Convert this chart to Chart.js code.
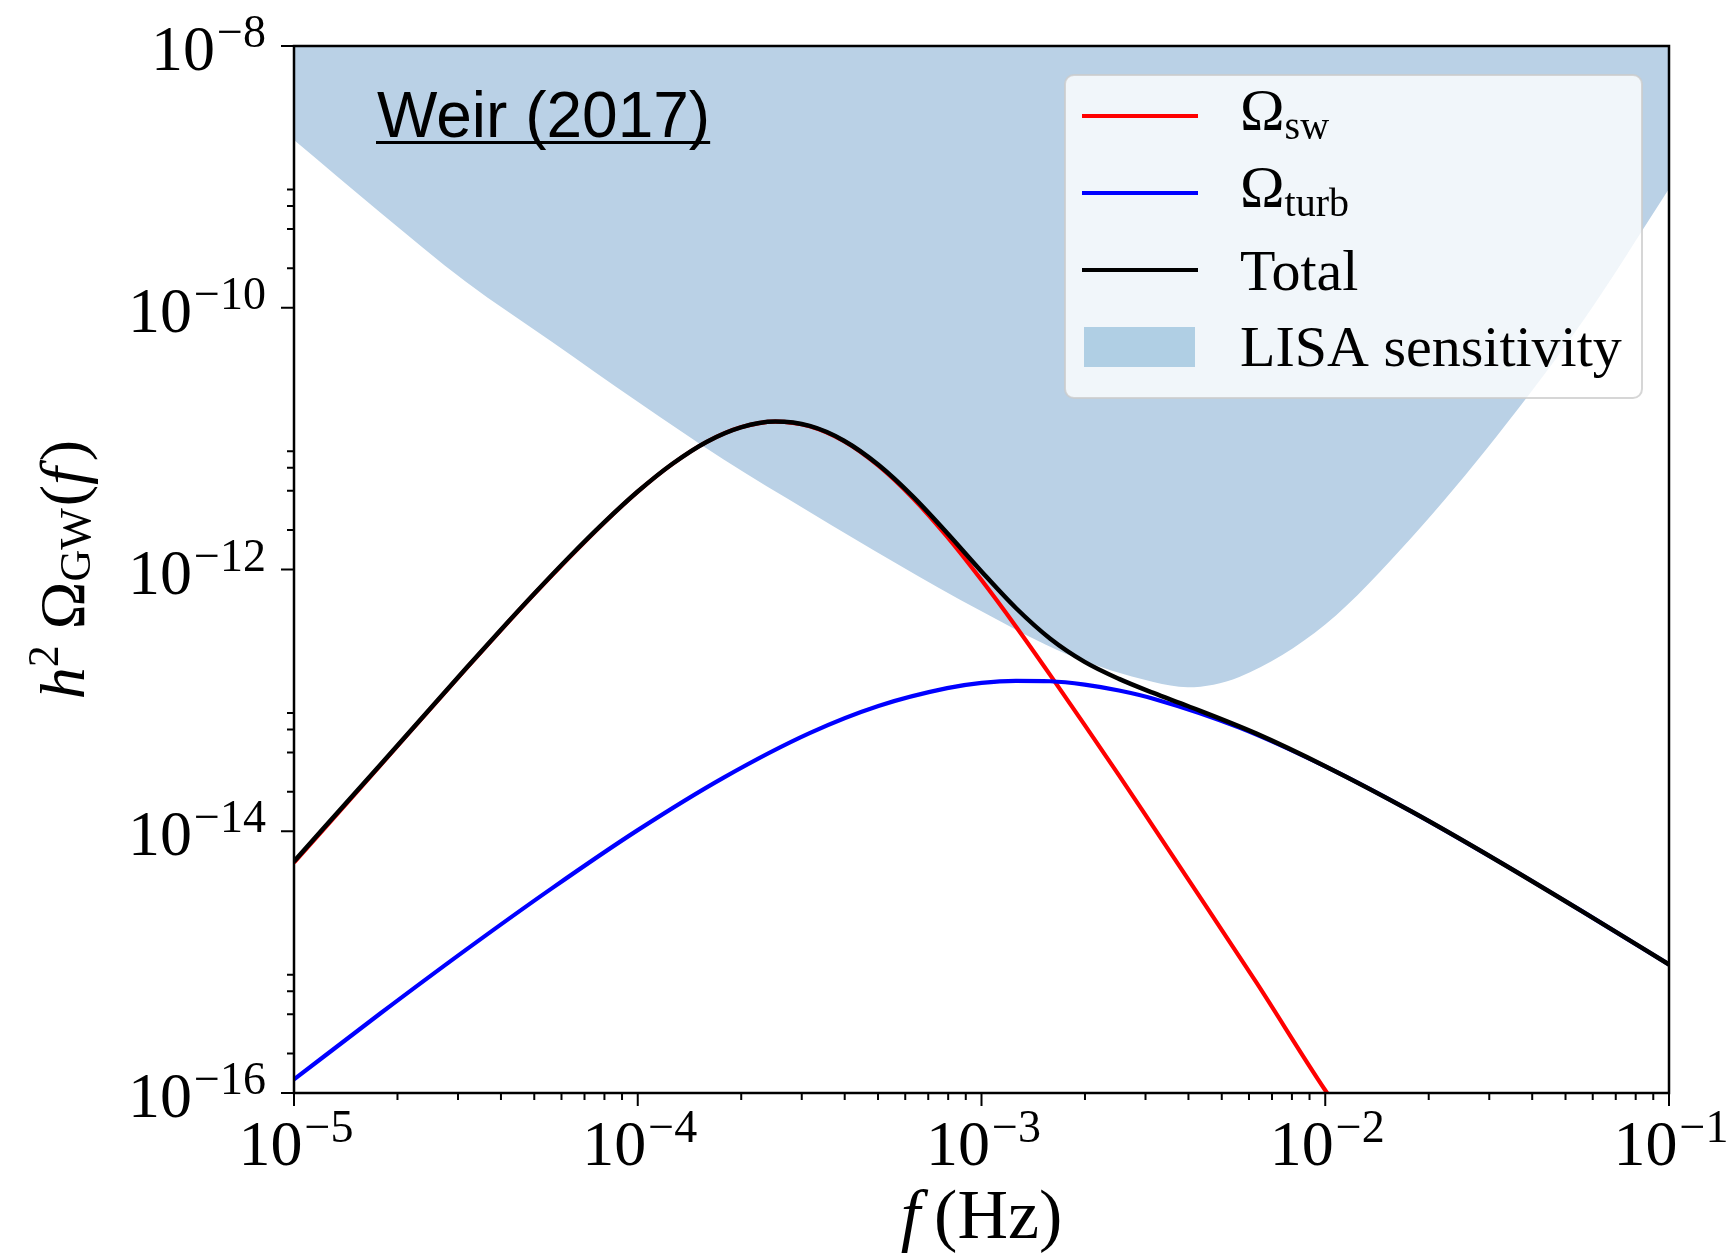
<!DOCTYPE html>
<html>
<head>
<meta charset="utf-8">
<title>Weir (2017) - GW spectrum vs LISA sensitivity</title>
<script src="https://cdn.jsdelivr.net/npm/chart.js@4.4.1/dist/chart.umd.min.js"></script>
<style>
    html, body { margin: 0; padding: 0; background: #ffffff; }
    #wrap { width: 1731px; height: 1254px; }
</style>
</head>
<body>
<div id="wrap"><canvas id="chart" width="1731" height="1254"></canvas></div>
<script>
// Values (log-log axes)
const SW_FREQ = [1e-5, 1.778e-5, 3.162e-5, 3.981e-5, 5.012e-5, 6.310e-5, 7.943e-5, 1e-4,
    1.259e-4, 1.585e-4, 1.995e-4, 2.512e-4, 3.162e-4, 3.981e-4, 5.012e-4, 6.310e-4, 7.943e-4,
    1e-3, 1.259e-3, 1.585e-3, 1.995e-3, 2.512e-3, 3.162e-3, 3.981e-3, 6.310e-3, 1e-2, 1.259e-2];
const SW_OMEGA = [5.75e-15, 3.16e-14, 1.74e-13, 3.40e-13, 6.55e-13, 1.23e-12, 2.25e-12, 3.93e-12,
    6.38e-12, 9.42e-12, 1.22e-11, 1.35e-11, 1.245e-11, 9.57e-12, 6.22e-12, 3.52e-12, 1.78e-12,
    8.30e-13, 3.67e-13, 1.56e-13, 6.50e-14, 2.67e-14, 1.08e-14, 4.35e-15, 6.97e-16, 1.05e-16, 4.47e-17];

const TURB_FREQ = [1e-5, 1.778e-5, 3.162e-5, 5.623e-5, 1e-4, 1.778e-4, 3.162e-4, 5.012e-4, 7.943e-4,
    1e-3, 1.259e-3, 1.585e-3, 1.995e-3, 2.512e-3, 3.162e-3, 5.623e-3, 1e-2, 1.778e-2, 3.162e-2,
    5.623e-2, 1e-1];
const TURB_OMEGA = [1.27e-16, 4.03e-16, 1.24e-15, 3.66e-15, 1.02e-14, 2.57e-14, 5.62e-14, 9.06e-14, 1.24e-13,
    1.36e-13, 1.41e-13, 1.40e-13, 1.32e-13, 1.19e-13, 1.03e-13, 6.19e-14, 3.13e-14, 1.42e-14, 5.98e-15,
    2.42e-15, 9.59e-16];

const TOTAL_FREQ = [1e-5, 1.778e-5, 3.162e-5, 3.981e-5, 5.012e-5, 6.310e-5, 7.943e-5, 1e-4,
    1.259e-4, 1.585e-4, 1.995e-4, 2.512e-4, 3.162e-4, 3.981e-4, 5.012e-4, 6.310e-4, 7.943e-4,
    1e-3, 1.259e-3, 1.585e-3, 1.995e-3, 2.512e-3, 3.162e-3, 3.981e-3, 6.310e-3, 1e-2,
    1.778e-2, 3.162e-2, 5.623e-2, 1e-1];
const TOTAL_OMEGA = [5.88e-15, 3.20e-14, 1.75e-13, 3.42e-13, 6.58e-13, 1.24e-12, 2.26e-12, 3.94e-12,
    6.40e-12, 9.44e-12, 1.22e-11, 1.35e-11, 1.25e-11, 9.64e-12, 6.31e-12, 3.62e-12, 1.90e-12,
    9.66e-13, 5.08e-13, 2.96e-13, 1.97e-13, 1.46e-13, 1.14e-13, 9.06e-14, 5.57e-14, 3.14e-14,
    1.42e-14, 5.98e-15, 2.42e-15, 9.59e-16];

const LISA_FREQ = [1e-5, 1.778e-5, 3.162e-5, 5.623e-5, 1e-4, 1.778e-4, 3.162e-4, 5.623e-4, 1e-3,
    1.778e-3, 3.162e-3, 3.981e-3, 5.623e-3, 1e-2, 1.778e-2, 3.162e-2, 5.623e-2, 1e-1];
const LISA_OMEGA = [1.91e-9, 5.37e-10, 1.58e-10, 5.50e-11, 1.91e-11, 6.92e-12, 2.75e-12, 1.12e-12, 4.79e-13,
    2.24e-13, 1.38e-13, 1.26e-13, 1.51e-13, 3.80e-13, 1.74e-12, 1.05e-11, 7.94e-11, 8.13e-10];

// Axis ticks
const X_MAJOR = [1e-5, 1e-4, 1e-3, 1e-2, 1e-1];
const X_MAJOR_EXP = ['−5', '−4', '−3', '−2', '−1'];
const Y_MAJOR = [1e-8, 1e-10, 1e-12, 1e-14, 1e-16];
const Y_MAJOR_EXP = ['−8', '−10', '−12', '−14', '−16'];
const X_MINOR_SUBS = [2, 3, 4, 5, 6, 7, 8, 9];
const Y_MINOR_SUBS = [2, 4, 6, 8];

const SERIF = '"Liberation Serif", "DejaVu Serif", serif';
const SANS = '"Liberation Sans", Arial, sans-serif';

const toPoints = (xs, ys) => xs.map((x, i) => ({ x, y: ys[i] }));

// draw a row of text pieces (for super/subscripts)
function drawRuns(ctx, runs, x, y, align) {
    const widths = runs.map(r => {
        ctx.font = r.font;
        return ctx.measureText(r.text).width + (r.gap || 0);
    });
    const total = widths.reduce((a, b) => a + b, 0);
    let cx = align === 'right' ? x - total : align === 'center' ? x - total / 2 : x;
    ctx.textAlign = 'left';
    ctx.textBaseline = 'alphabetic';
    runs.forEach((r, i) => {
        ctx.font = r.font;
        ctx.fillText(r.text, cx, y + (r.dy || 0));
        cx += widths[i];
    });
}

function pow10Runs(exp) {
    return [
        { text: '10', font: `64px ${SERIF}`, gap: 2 },
        { text: exp, font: `46px ${SERIF}`, dy: -23 },
    ];
}

const axesPlugin = {
    id: 'mplAxes',
    afterDraw(chart) {
        const { ctx, chartArea: a } = chart;
        const xs = chart.scales.x, ys = chart.scales.y;
        ctx.save();
        ctx.fillStyle = '#000';
        ctx.strokeStyle = '#000';

        // frame
        ctx.lineWidth = 2.5;
        ctx.strokeRect(a.left, a.top, a.right - a.left, a.bottom - a.top);

        // ticks, outward on left and bottom
        ctx.lineWidth = 2;
        ctx.beginPath();
        X_MAJOR.forEach((v, i) => {
            const px = xs.getPixelForValue(v);
            ctx.moveTo(px, a.bottom);
            ctx.lineTo(px, a.bottom + 13);
            if (i < X_MAJOR.length - 1) {
                X_MINOR_SUBS.forEach(s => {
                    const mx = xs.getPixelForValue(v * s);
                    ctx.moveTo(mx, a.bottom);
                    ctx.lineTo(mx, a.bottom + 7);
                });
            }
        });
        Y_MAJOR.forEach((v, i) => {
            const py = ys.getPixelForValue(v);
            ctx.moveTo(a.left, py);
            ctx.lineTo(a.left - 13, py);
            if (i > 0) {
                Y_MINOR_SUBS.forEach(s => {
                    const my = ys.getPixelForValue(v * s);
                    ctx.moveTo(a.left, my);
                    ctx.lineTo(a.left - 7, my);
                });
            }
        });
        ctx.stroke();

        // tick labels
        X_MAJOR.forEach((v, i) => {
            drawRuns(ctx, pow10Runs(X_MAJOR_EXP[i]), xs.getPixelForValue(v) + 2, a.bottom + 72, 'center');
        });
        Y_MAJOR.forEach((v, i) => {
            drawRuns(ctx, pow10Runs(Y_MAJOR_EXP[i]), a.left - 28, ys.getPixelForValue(v) + 24, 'right');
        });

        // axis titles
        drawRuns(ctx, [
            { text: 'f', font: `italic 70px ${SERIF}`, gap: 14 },
            { text: '(Hz)', font: `70px ${SERIF}` },
        ], (a.left + a.right) / 2, 1238, 'center');

        ctx.save();
        ctx.translate(84, (a.top + a.bottom) / 2);
        ctx.rotate(-Math.PI / 2);
        drawRuns(ctx, [
            { text: 'h', font: `italic 64px ${SERIF}` },
            { text: '2', font: `44px ${SERIF}`, dy: -26, gap: 16 },
            { text: 'Ω', font: `64px ${SERIF}` },
            { text: 'GW', font: `44px ${SERIF}`, dy: 6, gap: 2 },
            { text: '(', font: `64px ${SERIF}` },
            { text: 'f', font: `italic 64px ${SERIF}`, gap: 6 },
            { text: ')', font: `64px ${SERIF}` },
        ], 0, 0, 'center');
        ctx.restore();

        // annotation
        ctx.font = `64px ${SANS}`;
        ctx.textAlign = 'left';
        ctx.textBaseline = 'alphabetic';
        ctx.fillText('Weir (2017)', 377, 137);
        const tw = ctx.measureText('Weir (2017)').width;
        ctx.fillRect(376, 141, tw + 1, 3);

        // legend
        const lx = 1065, ly = 75, lw = 577, lh = 323;
        ctx.beginPath();
        ctx.roundRect(lx, ly, lw, lh, 9);
        ctx.fillStyle = 'rgba(255,255,255,0.8)';
        ctx.fill();
        ctx.strokeStyle = 'rgba(204,204,204,0.8)';
        ctx.lineWidth = 2;
        ctx.stroke();

        const ds = chart.data.datasets;
        const byLabel = l => ds.find(d => d.label === l);
        const rows = [
            { d: byLabel('sw'), runs: [{ text: 'Ω', font: `60px ${SERIF}` }, { text: 'sw', font: `40px ${SERIF}`, dy: 9 }], dy: 14 },
            { d: byLabel('turb'), runs: [{ text: 'Ω', font: `60px ${SERIF}` }, { text: 'turb', font: `40px ${SERIF}`, dy: 9 }], dy: 14 },
            { d: byLabel('Total'), runs: [{ text: 'Total', font: `58px ${SERIF}` }], dy: 20 },
            { d: byLabel('LISA sensitivity'), runs: [{ text: 'LISA sensitivity', font: `58px ${SERIF}` }], dy: 19, patch: true },
        ];
        rows.forEach((r, i) => {
            const cy = 116 + i * 77;
            if (r.patch) {
                ctx.fillStyle = '#b0cfe4';
                ctx.fillRect(1084, cy - 20, 111, 40);
            } else {
                ctx.strokeStyle = r.d.borderColor;
                ctx.lineWidth = 4;
                ctx.beginPath();
                ctx.moveTo(1082, cy);
                ctx.lineTo(1198, cy);
                ctx.stroke();
            }
            ctx.fillStyle = '#000';
            drawRuns(ctx, r.runs, 1240, cy + r.dy, 'left');
        });
        ctx.restore();
    }
};

new Chart(document.getElementById('chart'), {
    type: 'line',
    data: {
        datasets: [
            {
                label: 'Total',
                data: toPoints(TOTAL_FREQ, TOTAL_OMEGA),
                borderColor: '#000000',
                borderWidth: 4.5,
                order: 1,
            },
            {
                label: 'turb',
                data: toPoints(TURB_FREQ, TURB_OMEGA),
                borderColor: '#0000ff',
                borderWidth: 4.2,
                order: 2,
            },
            {
                label: 'sw',
                data: toPoints(SW_FREQ, SW_OMEGA),
                borderColor: '#ff0000',
                borderWidth: 4.2,
                order: 3,
            },
            {
                label: 'LISA sensitivity',
                data: toPoints(LISA_FREQ, LISA_OMEGA),
                borderWidth: 0,
                borderColor: 'rgba(0,0,0,0)',
                backgroundColor: '#bad1e6',
                fill: 'end',
                order: 4,
            },
        ],
    },
    options: {
        responsive: false,
        animation: false,
        devicePixelRatio: 1,
        elements: {
            point: { radius: 0, hoverRadius: 0 },
            line: { cubicInterpolationMode: 'monotone' },
        },
        layout: { padding: { left: 0, top: 46, right: 62, bottom: 0 } },
        plugins: {
            legend: { display: false },
            tooltip: { enabled: false },
        },
        scales: {
            x: {
                type: 'logarithmic',
                min: 1e-5,
                max: 1e-1,
                grid: { display: false, drawTicks: false },
                border: { display: false },
                ticks: { display: false },
                afterFit: s => { s.height = 161; },
            },
            y: {
                type: 'logarithmic',
                min: 1e-16,
                max: 1e-8,
                grid: { display: false, drawTicks: false },
                border: { display: false },
                ticks: { display: false },
                afterFit: s => { s.width = 294; },
            },
        },
    },
    plugins: [axesPlugin],
});
</script>
</body>
</html>
